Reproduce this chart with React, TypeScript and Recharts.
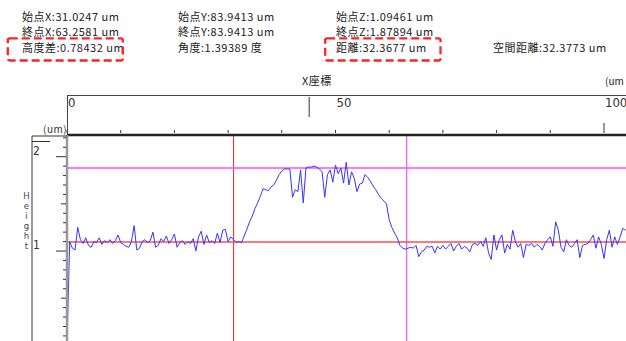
import { LineChart, Line, XAxis, YAxis, ReferenceLine } from 'recharts';

// measurement readouts
const startX = 31.0247;
const endX = 63.2581;
const startY = 83.9413;
const endY = 83.9413;
const startZ = 1.09461;
const endZ = 1.87894;
const heightDiff = 0.78432;
const angle = 1.39389;
const distance = 32.3677;
const spaceDistance = 32.3773;

// profile sampled every 0.5 um along X
const STEP = 0.5;
const heights = [
  0.0, 1.1, 1.03, 1.01, 1.25, 1.12, 1.08, 1.14, 1.06, 1.04,
  1.1, 1.09, 1.14, 1.07, 1.11, 1.09, 1.12, 1.08, 1.11, 1.17,
  1.09, 1.07, 1.05, 1.04, 1.1, 1.27, 1.01, 1.03, 1.1, 1.12,
  1.09, 1.11, 1.2, 1.04, 1.06, 1.13, 1.1, 1.16, 1.08, 1.12,
  1.18, 1.04, 1.09, 1.11, 1.07, 1.1, 1.08, 1.13, 1.0, 1.15,
  1.21, 1.07, 1.17, 1.09, 1.11, 1.08, 1.19, 1.09, 1.22, 1.23,
  1.1, 1.15, 1.12, 1.09, 1.1, 1.09, 1.16, 1.23, 1.31, 1.37,
  1.45, 1.51, 1.58, 1.66, 1.65, 1.64, 1.68, 1.7, 1.75, 1.81,
  1.85, 1.87, 1.87, 1.87, 1.57, 1.65, 1.63, 1.86, 1.51, 1.88,
  1.89, 1.89, 1.9, 1.89, 1.87, 1.84, 1.57, 1.81, 1.86, 1.73,
  1.91, 1.82, 1.88, 1.72, 1.94, 1.7, 1.84, 1.77, 1.63, 1.71,
  1.72, 1.81, 1.78, 1.74, 1.69, 1.65, 1.6, 1.56, 1.53, 1.5,
  1.33, 1.25, 1.19, 1.14, 1.06, 1.03, 1.02, 1.03, 1.04, 1.03,
  1.06, 0.94, 0.99, 1.01, 1.05, 1.04, 1.05, 0.98, 1.05, 1.02,
  1.06, 1.02, 1.05, 1.08, 1.0, 1.05, 1.08, 1.02, 1.05, 1.03,
  0.99, 1.07, 1.08, 1.06, 1.1, 1.05, 1.14, 0.98, 0.91, 1.17,
  1.01, 1.12, 1.17, 0.98, 1.07, 1.02, 1.22, 1.1, 1.04, 1.08,
  0.93, 1.07, 1.06, 1.08, 1.04, 1.07, 1.05, 1.01, 1.08, 1.12,
  1.15, 1.05, 1.31, 1.22, 1.04, 0.99, 1.12, 1.06, 1.04, 1.08,
  1.12, 0.93, 1.06, 1.07, 1.08, 1.12, 1.17, 1.03, 1.15, 1.07,
  0.92, 1.12, 1.22, 1.04, 1.15, 1.07, 1.15, 1.24, 1.22,
];

const xTicks = [0, 10, 20, 30, 40, 45.1, 50, 60, 70, 80, 90, 100];
const xLabels = [0, 50, 100];
const cursorX = 45.1;
const yTicks = [
  0.1, 0.2, 0.3, 0.4, 0.5, 0.6, 0.7, 0.8, 0.9, 1, 1.1,
  1.2, 1.3, 1.4, 1.5, 1.6, 1.7, 1.8, 1.9, 2, 2.1, 2.2,
];
const yLabels = [1, 2];
const yTitle = ['H', 'e', 'i', 'g', 'h', 't'];

const data = heights.map((h, i) => ({ x: i * STEP, h }));

const jp = "'Noto Sans CJK JP', 'Noto Sans', sans-serif";
const narrow = "'Liberation Sans Narrow', 'DejaVu Sans Condensed', 'Liberation Sans', sans-serif";

function XTick(props: any) {
  const { x, y, payload } = props;
  const v = payload.value;
  if (v === cursorX) {
    return <line x1={x} x2={x} y1={y - 38} y2={y - 18} stroke="#333" />;
  }
  const long = v === 100;
  return (
    <g>
      <line x1={x} x2={x} y1={y - (long ? 12 : 5)} y2={y - 2} stroke="#333" />
      {xLabels.includes(v) && (
        <text x={x + 1} y={y - 28} fontSize={13} fontFamily={narrow} fill="#333">
          {v}
        </text>
      )}
    </g>
  );
}

function YTick(props: any) {
  const { x, y, payload } = props;
  const v = payload.value;
  const isInt = Math.abs(v - Math.round(v)) < 1e-6;
  const isHalf = Math.abs(v * 2 - Math.round(v * 2)) < 1e-6;
  const len = isInt ? 10 : isHalf ? 5 : 3;
  return (
    <g>
      <line x1={x - len - 1} x2={x - 1} y1={y} y2={y} stroke="#333" />
      {yLabels.includes(v) && (
        <text x={x - 34} y={y - 2} fontSize={12} fontFamily={narrow} fill="#333">
          {v}
        </text>
      )}
    </g>
  );
}

function Header() {
  const t = { fontSize: 11, fontFamily: jp, fill: '#222', letterSpacing: 0.5 };
  return (
    <svg
      width={626}
      height={341}
      style={{ position: 'absolute', left: 0, top: 0, pointerEvents: 'none' }}
    >
      <text x={22} y={21} {...t}>始点X:{startX} um</text>
      <text x={22} y={36} {...t}>終点X:{endX} um</text>
      <text x={22} y={52} {...t}>高度差:{heightDiff} um</text>
      <text x={178} y={21} {...t}>始点Y:{startY} um</text>
      <text x={178} y={36} {...t}>終点Y:{endY} um</text>
      <text x={178} y={52} {...t}>角度:{angle} 度</text>
      <text x={336} y={21} {...t}>始点Z:{startZ} um</text>
      <text x={336} y={36} {...t}>終点Z:{endZ} um</text>
      <text x={336} y={52} {...t}>距離:{distance} um</text>
      <text x={493} y={52} {...t}>空間距離:{spaceDistance} um</text>

      {/* highlight boxes */}
      <rect x={7.8} y={38.3} width={115} height={22.2} rx={2} fill="none"
        stroke="#f22" strokeWidth={2.3} strokeDasharray="8 4" />
      <rect x={325.2} y={38.3} width={115.3} height={22.2} rx={2} fill="none"
        stroke="#f22" strokeWidth={2.3} strokeDasharray="8 4" />

      {/* top axis panel */}
      <text x={302} y={85} {...t}>X座標</text>
      <text x={605} y={85} fontSize={10} fontFamily={jp} fill="#222">(um</text>
      <line x1={67} x2={626} y1={95.5} y2={95.5} stroke="#444" />
      <line x1={67.5} x2={67.5} y1={95} y2={134} stroke="#444" />

      {/* left panel */}
      <text x={43} y={133} fontSize={10} fontFamily={jp} fill="#333" letterSpacing={0.5}>(um)</text>
      <line x1={32} x2={67} y1={136} y2={136} stroke="#333" />
      <line x1={32} x2={50} y1={141.5} y2={141.5} stroke="#333" />
      <line x1={32} x2={32} y1={136} y2={341} stroke="#333" />
      {yTitle.map((c, i) => (
        <text key={i} x={26.5} y={199 + i * 10} textAnchor="middle"
          fontSize={9.5} fontFamily={narrow} fill="#444">
          {c}
        </text>
      ))}
    </svg>
  );
}

export default function App() {
  return (
    <div style={{ position: 'absolute', left: 0, top: 0, width: 626, height: 341, background: '#fff' }}>
      <LineChart width={626} height={341} data={data} margin={{ top: 95, right: 0, bottom: 0, left: 0 }}>
        <XAxis
          dataKey="x"
          type="number"
          orientation="top"
          height={40}
          domain={[0, 104.1]}
          ticks={xTicks}
          interval={0}
          tick={<XTick />}
          tickLine={false}
          tickSize={0}
          tickMargin={0}
          axisLine={{ stroke: '#222', strokeWidth: 2.5 }}
          allowDataOverflow
        />
        <YAxis
          type="number"
          width={67}
          domain={[0.046, 2.23]}
          ticks={yTicks}
          interval={0}
          tick={<YTick />}
          tickLine={false}
          tickSize={0}
          tickMargin={0}
          axisLine={{ stroke: '#999', strokeWidth: 2.5 }}
          allowDataOverflow
        />
        <ReferenceLine x={startX} stroke="#ff1a1a" strokeWidth={1} />
        <ReferenceLine x={endX} stroke="#ff33ff" strokeWidth={1} />
        <ReferenceLine y={startZ} stroke="#ff4d4d" strokeWidth={1.5} />
        <ReferenceLine y={endZ} stroke="#ff4dff" strokeWidth={1.5} />
        <Line
          type="linear"
          dataKey="h"
          stroke="#3535ff"
          strokeWidth={1}
          dot={false}
          activeDot={false}
          isAnimationActive={false}
        />
      </LineChart>
      <Header />
    </div>
  );
}
